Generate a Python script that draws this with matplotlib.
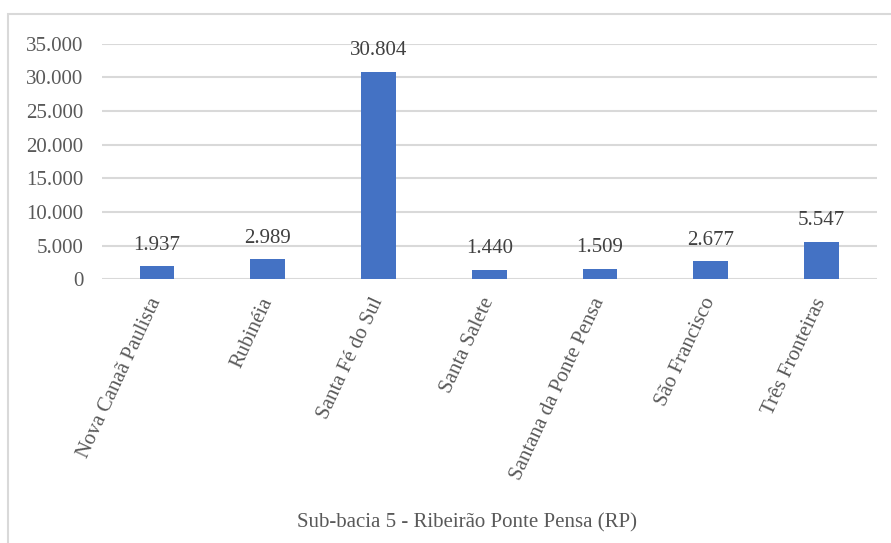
import matplotlib
matplotlib.use("Agg")
import matplotlib.pyplot as plt
from matplotlib.patches import Rectangle

municipios = ["Nova Canaã Paulista", "Rubinéia", "Santa Fé do Sul", "Santa Salete",
              "Santana da Ponte Pensa", "São Francisco", "Três Fronteiras"]
valores = [1937, 2989, 30804, 1440, 1509, 2677, 5547]
yticks = [0, 5000, 10000, 15000, 20000, 25000, 30000, 35000]
titulo = "Sub-bacia 5 - Ribeirão Ponte Pensa (RP)"


def fmt_br(v):
    return f"{v:,.0f}".replace(",", ".")


plt.rcParams["font.family"] = ["Liberation Serif", "DejaVu Serif"]

W, H = 891, 543
fig = plt.figure(figsize=(W / 100, H / 100), dpi=100)

# chart frame
fig.patches.append(Rectangle((8 / W, -0.05), 1.2, 1 - 14 / H + 0.05,
                             transform=fig.transFigure, fill=False,
                             edgecolor="#d9d9d9", linewidth=1.5))

ax = fig.add_axes([101.7 / W, 1 - 279.3 / H, (876.7 - 101.7) / W, (279.3 - 43.7) / H])
x = range(len(municipios))
ax.bar(x, valores, width=0.313, color="#4472C4", zorder=3)
ax.set_xlim(-0.5, len(municipios) - 0.5)
ax.set_ylim(0, 35000)
ax.set_yticks(yticks)
ax.set_yticklabels([fmt_br(v) for v in yticks], fontsize=15, color="#595959")
ax.yaxis.grid(True, color="#d9d9d9", linewidth=1.5, zorder=0)
for s in ax.spines.values():
    s.set_visible(False)
ax.tick_params(axis="y", length=0, pad=13)
ax.tick_params(axis="x", length=0, pad=14)
ax.set_xticks(list(x))
ax.set_xticklabels(municipios, rotation=65, ha="right", va="center",
                   rotation_mode="anchor", fontsize=15, color="#595959")

for xi, v in zip(x, valores):
    ax.annotate(fmt_br(v), (xi, v), xytext=(0, 12), textcoords="offset points",
                ha="center", va="baseline", fontsize=15, color="#404040")

fig.text(467 / W, 1 - 523 / H, titulo, ha="center", va="center",
         fontsize=15, color="#595959")

fig.savefig("out.png", dpi=100)
